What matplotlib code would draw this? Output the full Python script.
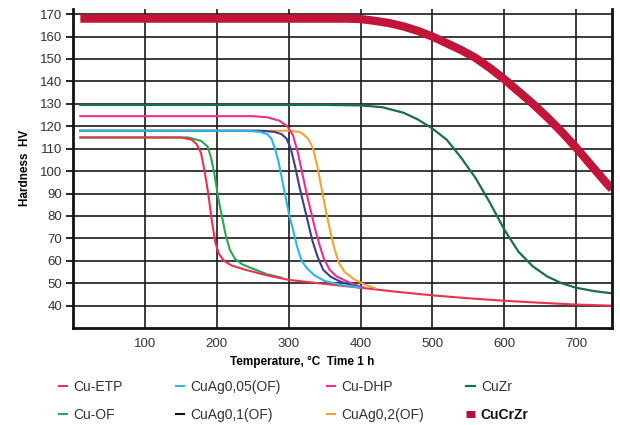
import matplotlib.pyplot as plt

plt.rcParams['font.family'] = ['Liberation Sans Narrow', 'Liberation Sans', 'DejaVu Sans']

# Hardness HV vs annealing temperature (1 h)
etp_t = [10, 150, 165, 172, 178, 183, 188, 193, 198, 203, 210, 220, 240, 270, 300, 350, 400, 450, 500, 550, 600, 650, 700, 750]
etp_v = [115, 115, 114, 112, 108, 100, 90, 78, 68, 63, 60, 58, 56, 53.5, 51.5, 49.7, 48, 46.2, 44.6, 43.3, 42.2, 41.3, 40.5, 40]

of_t = [10, 160, 178, 187, 192, 197, 202, 207, 212, 218, 225, 235, 250, 270, 290]
of_v = [115, 115, 113.5, 111, 106, 98, 88, 80, 72, 65, 61, 58.5, 56.5, 54, 52.5]

ag005_t = [10, 240, 260, 270, 276, 281, 286, 291, 296, 301, 306, 312, 318, 326, 336, 350, 370, 400]
ag005_v = [118, 118, 117.5, 116.5, 114.5, 110, 104, 96, 88, 80, 74, 66, 60, 56.5, 53.5, 51, 49.5, 48]

ag01_t = [10, 260, 280, 290, 297, 303, 309, 315, 321, 327, 333, 340, 348, 358, 370, 385, 400]
ag01_v = [118, 118, 117.5, 116.5, 114.5, 110, 102, 93, 85, 77, 69, 62, 56, 53, 51, 49.3, 48]

dhp_t = [10, 250, 270, 287, 298, 306, 313, 319, 325, 331, 337, 343, 349, 357, 367, 380, 395, 405]
dhp_v = [124.5, 124.5, 124, 122.5, 120, 116, 108, 99, 90, 82, 74, 67, 61, 56, 53, 51, 49, 48]

ag02_t = [10, 280, 300, 315, 322, 328, 334, 340, 346, 352, 358, 364, 370, 378, 390, 405, 420]
ag02_v = [118, 118, 118, 117.5, 116, 114, 110, 102, 92, 82, 73, 65, 59, 55, 52, 49.5, 47.8]

zr_t = [10, 350, 400, 430, 460, 480, 500, 520, 540, 560, 580, 600, 620, 640, 660, 680, 700, 725, 750]
zr_v = [129.5, 129.5, 129.3, 128.5, 126, 123, 119, 114, 106, 97, 86, 74, 64, 57.5, 53, 50, 48, 46.5, 45.5]

crzr_t = [10, 380, 400, 420, 440, 460, 480, 500, 520, 540, 560, 580, 600, 620, 640, 660, 680, 700, 720, 740, 750]
crzr_v = [168, 168, 167.8, 167, 166, 164.5, 162.5, 160, 157, 154, 150.5, 146, 141, 135.5, 130, 124, 117.5, 110.5, 103, 95.5, 92]

x_ticks = [100, 200, 300, 400, 500, 600, 700]
y_ticks = [40, 50, 60, 70, 80, 90, 100, 110, 120, 130, 140, 150, 160, 170]

fig = plt.figure(figsize=(6.2, 4.25), dpi=100)
ax = fig.add_axes([0.118, 0.228, 0.869, 0.752])

ax.set_xlim(0, 750)
ax.set_ylim(30, 172.5)
ax.set_xticks(x_ticks)
ax.set_yticks(y_ticks)
ax.grid(True, color='#1a1a1a', lw=1.2)
ax.set_axisbelow(True)
for s in ax.spines.values():
    s.set_linewidth(2)
    s.set_color('#111111')
ax.spines['top'].set_visible(False)
ax.tick_params(axis='x', length=0, labelsize=9.5, labelcolor='#333333', pad=7)
ax.tick_params(axis='y', length=5, width=1.2, labelsize=9.5, labelcolor='#333333', pad=3)

h_of, = ax.plot(of_t, of_v, color='#2ca552', lw=1.5)
h_etp, = ax.plot(etp_t, etp_v, color='#e8324f', lw=1.5)
h_ag02, = ax.plot(ag02_t, ag02_v, color='#f4a330', lw=1.5)
h_dhp, = ax.plot(dhp_t, dhp_v, color='#ec2f8e', lw=1.5)
h_ag01, = ax.plot(ag01_t, ag01_v, color='#3c3f8f', lw=1.5)
h_ag005, = ax.plot(ag005_t, ag005_v, color='#2bb6e6', lw=1.5)
h_zr, = ax.plot(zr_t, zr_v, color='#17704a', lw=1.6)
h_crzr, = ax.plot(crzr_t, crzr_v, color='#c3143a', lw=6, solid_capstyle='butt')

ax.set_xlabel('Temperature, °C  Time 1 h', fontsize=8.5, fontweight='bold', va='center')
ax.xaxis.set_label_coords(0.425, -0.106)
ax.set_ylabel('Hardness  HV', fontsize=8.5, fontweight='bold', labelpad=6)

# legend: four columns of two entries
cols = [
    ([h_etp, h_of], ['Cu-ETP', 'Cu-OF'], 0.095),
    ([h_ag005, plt.Line2D([], [], color='#111111', lw=1.5)], ['CuAg0,05(OF)', 'CuAg0,1(OF)'], 0.284),
    ([h_dhp, h_ag02], ['Cu-DHP', 'CuAg0,2(OF)'], 0.527),
    ([h_zr, plt.Line2D([], [], color='#b0123a', lw=5, solid_capstyle='butt')], ['CuZr', 'CuCrZr'], 0.752),
]
for handles, labels, x in cols:
    leg = fig.legend(handles, labels, loc='upper left', bbox_to_anchor=(x, 0.106),
                     frameon=False, fontsize=10, handlelength=0.6, handletextpad=0.45,
                     labelspacing=1.0, borderpad=0, borderaxespad=0)
    for t in leg.get_texts():
        t.set_color('#333333')
        if t.get_text() == 'CuCrZr':
            t.set_fontweight('bold')
            t.set_color('#111111')

fig.savefig('out.png', dpi=100)
